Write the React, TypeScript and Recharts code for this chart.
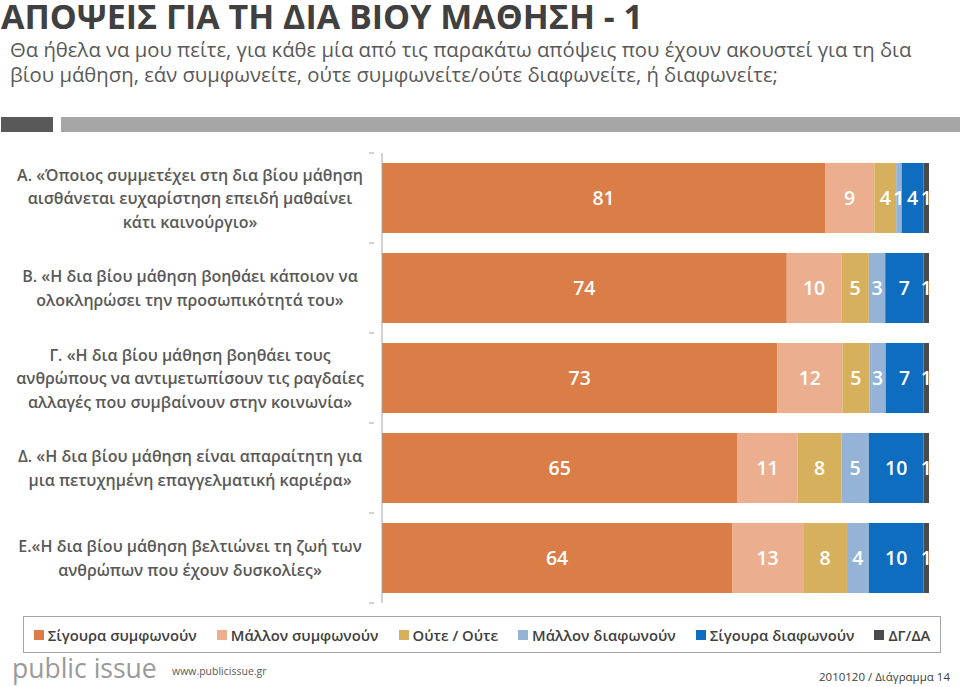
import { BarChart, Bar, XAxis, YAxis, Legend, LabelList } from 'recharts';

const categories = ['Α', 'Β', 'Γ', 'Δ', 'Ε'];
const statementLines = [
  ['Α. «Όποιος συμμετέχει στη δια βίου μάθηση', 'αισθάνεται ευχαρίστηση επειδή μαθαίνει', 'κάτι καινούργιο»'],
  ['Β. «Η δια βίου μάθηση βοηθάει κάποιον να', 'ολοκληρώσει την προσωπικότητά του»'],
  ['Γ. «Η δια βίου μάθηση βοηθάει τους', 'ανθρώπους να αντιμετωπίσουν τις ραγδαίες', 'αλλαγές που συμβαίνουν στην κοινωνία»'],
  ['Δ. «Η δια βίου μάθηση είναι απαραίτητη για', 'μια πετυχημένη επαγγελματική καριέρα»'],
  ['Ε.«Η δια βίου μάθηση βελτιώνει τη ζωή των', 'ανθρώπων που έχουν δυσκολίες»'],
];

const definitelyAgree = [81, 74, 73, 65, 64];
const ratherAgree = [9, 10, 12, 11, 13];
const neither = [4, 5, 5, 8, 8];
const ratherDisagree = [1, 3, 3, 5, 4];
const definitelyDisagree = [4, 7, 7, 10, 10];
const noAnswer = [1, 1, 1, 1, 1];

const seriesNames = ['Σίγουρα συμφωνούν', 'Μάλλον συμφωνούν', 'Ούτε / Ούτε', 'Μάλλον διαφωνούν', 'Σίγουρα διαφωνούν', 'ΔΓ/ΔΑ'];
const seriesKeys = ['da', 'ra', 'ne', 'rd', 'dd', 'na'];
const seriesColors = ['#DA7D47', '#EBAE8E', '#D7B05E', '#95B3D7', '#0E6DBF', '#4B4B4E'];

const subtitleLines = [
  'Θα ήθελα να μου πείτε, για κάθε μία από τις παρακάτω απόψεις που έχουν ακουστεί για τη δια',
  'βίου μάθηση, εάν συμφωνείτε, ούτε συμφωνείτε/ούτε διαφωνείτε, ή διαφωνείτε;',
];

const data = categories.map((c, i) => ({
  name: c,
  da: definitelyAgree[i],
  ra: ratherAgree[i],
  ne: neither[i],
  rd: ratherDisagree[i],
  dd: definitelyDisagree[i],
  na: noAnswer[i],
}));

const FONT = '"Open Sans", "Noto Sans", sans-serif';

const StatementTick = (props: any) => {
  const { x, y, payload, index, visibleTicksCount } = props;
  const lines = statementLines[index] || [];
  const half = payload && payload.offset ? payload.offset : 45;
  const lineH = 23.5;
  const startY = y - ((lines.length - 1) * lineH) / 2;
  return (
    <g>
      <line x1={x - 5} x2={x} y1={y - half} y2={y - half} stroke="#A6A6A6" />
      {index === visibleTicksCount - 1 && (
        <line x1={x - 5} x2={x} y1={y + half} y2={y + half} stroke="#A6A6A6" />
      )}
      {lines.map((l, k) => (
        <text
          key={k}
          x={190}
          y={startY + k * lineH}
          textAnchor="middle"
          dominantBaseline="central"
          fontFamily={FONT}
          fontWeight={600}
          fontSize={16}
          fill="#595959"
        >
          {l}
        </text>
      ))}
    </g>
  );
};

const LegendBox = () => (
  <div
    style={{
      boxSizing: 'border-box',
      width: 918,
      height: 37,
      border: '1.5px solid #A6A6A6',
      display: 'flex',
      alignItems: 'center',
      justifyContent: 'center',
      gap: 20,
      fontFamily: FONT,
      fontWeight: 600,
      fontSize: 14.8,
      color: '#404040',
    }}
  >
    {seriesNames.map((n, i) => (
      <span key={n} style={{ display: 'flex', alignItems: 'center' }}>
        <span style={{ width: 10, height: 10, background: seriesColors[i], marginRight: 4 }} />
        {n}
      </span>
    ))}
  </div>
);

export default function App() {
  return (
    <div style={{ position: 'absolute', left: 0, top: 0, width: 960, height: 687, background: '#fff', overflow: 'hidden' }}>
      <div style={{ position: 'absolute', left: 1, top: 0, fontFamily: FONT, fontWeight: 700, fontSize: 34, lineHeight: '32px', color: '#404040', whiteSpace: 'nowrap' }}>
        ΑΠΟΨΕΙΣ ΓΙΑ ΤΗ ΔΙΑ ΒΙΟΥ ΜΑΘΗΣΗ - 1
      </div>
      {subtitleLines.map((s, i) => (
        <div
          key={i}
          style={{ position: 'absolute', left: 10, top: 37 + i * 25, fontFamily: FONT, fontSize: 20.3, lineHeight: '25px', color: '#595959', whiteSpace: 'nowrap' }}
        >
          {s}
        </div>
      ))}
      <div style={{ position: 'absolute', left: 1, top: 117, width: 52, height: 15, background: '#595959' }} />
      <div style={{ position: 'absolute', left: 61, top: 117, width: 899, height: 15, background: '#A6A6A6' }} />

      <BarChart
        width={960}
        height={687}
        data={data}
        layout="vertical"
        stackOffset="expand"
        margin={{ top: 153, right: 31, bottom: 84, left: 0 }}
        style={{ position: 'absolute', left: 0, top: 0 }}
      >
        <XAxis type="number" domain={[0, 1]} hide />
        <YAxis
          type="category"
          dataKey="name"
          width={382}
          axisLine={{ stroke: '#A6A6A6' }}
          tickLine={false}
          tick={<StatementTick />}
          interval={0}
        />
        <Legend
          layout="horizontal"
          verticalAlign="middle"
          align="center"
          content={<LegendBox />}
          wrapperStyle={{ left: 23, top: 616, width: 918, height: 37 }}
        />
        {seriesKeys.map((k, i) => (
          <Bar key={k} dataKey={k} name={seriesNames[i]} stackId="a" fill={seriesColors[i]} barSize={70} isAnimationActive={false}>
            <LabelList
              dataKey={k}
              position="center"
              fill="#FFFFFF"
              fontFamily={FONT}
              fontWeight={600}
              fontSize={19.5}
            />
          </Bar>
        ))}
      </BarChart>

      <div style={{ position: 'absolute', left: 12, top: 652, fontFamily: FONT, fontSize: 26.5, lineHeight: '32px', color: '#9A9A9A', whiteSpace: 'nowrap' }}>
        public issue
      </div>
      <div style={{ position: 'absolute', left: 172, top: 664, fontFamily: FONT, fontSize: 10.5, color: '#595959', whiteSpace: 'nowrap' }}>
        www.publicissue.gr
      </div>
      <div style={{ position: 'absolute', right: 10, top: 669, fontFamily: FONT, fontSize: 11.5, color: '#404040', whiteSpace: 'nowrap' }}>
        2010120 / Διάγραμμα 14
      </div>
    </div>
  );
}
